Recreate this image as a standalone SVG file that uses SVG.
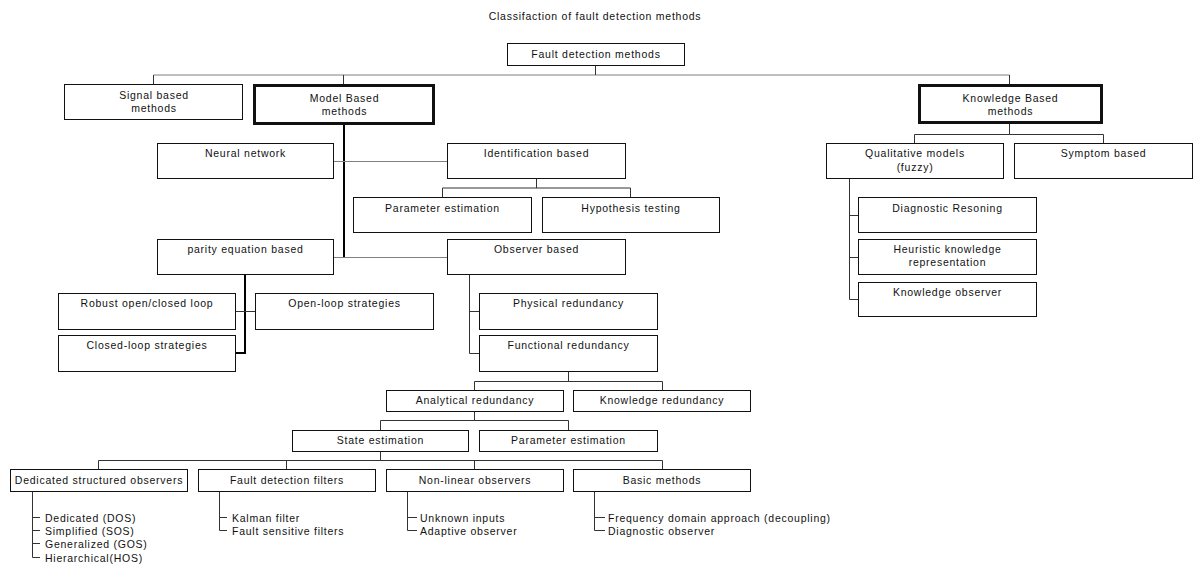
<svg xmlns="http://www.w3.org/2000/svg" width="1194" height="565" viewBox="0 0 1194 565">
<style>
.box{fill:#fff;stroke:#111;stroke-width:1}
.thick{stroke-width:3}
text{font-family:"Liberation Sans",Arial,sans-serif;font-size:10.5px;letter-spacing:0.75px;fill:#111}
.c{text-anchor:middle}
.ln{fill:none;stroke:#333;stroke-width:1}
.gr{fill:none;stroke:#808080;stroke-width:1.2}
.tk{fill:none;stroke:#000;stroke-width:2}
</style>
<rect width="1194" height="565" fill="#fff"/>
<text class="c" x="595" y="20">Classifaction of fault detection methods</text>
<g id="connectors">
<path class="gr" d="M153.5 75H1009.5"/>
<path class="ln" d="M595.5 65V75M153.5 75V84M343.5 75V84M1009.5 75V84"/>
<path class="tk" d="M344 124V258"/>
<path class="gr" d="M333 161.5H447M333 257.5H447"/>
<path class="ln" d="M536.5 178V188M442.5 188H630.5M442.5 188V197M630.5 188V197"/>
<path class="tk" d="M245 274V353H235"/>
<path class="ln" d="M235 311.5H255"/>
<path class="ln" d="M469.5 274V353.5H479M469.5 311.5H479"/>
<path class="ln" d="M568.5 371V381.5M474.5 381.5H662.5M474.5 381.5V390M662.5 381.5V390"/>
<path class="ln" d="M474.5 411V420.5M380.5 420.5H568.5M380.5 420.5V430M568.5 420.5V430"/>
<path class="ln" d="M380.5 451V460.5M98.5 460.5H662.5M98.5 460.5V469M286.5 460.5V469M474.5 460.5V469M662.5 460.5V469"/>
<path class="ln" d="M32.5 491V557.5H40M32.5 517.5H40M32.5 530.5H40M32.5 543.5H40"/>
<path class="ln" d="M219.5 491V530.5H227M219.5 517.5H227"/>
<path class="ln" d="M407.5 491V530.5H417M407.5 517.5H417"/>
<path class="ln" d="M594.5 491V530.5H605M594.5 517.5H605"/>
<path class="ln" d="M1009.5 123V134.5M914.5 134.5H1103.5M914.5 134.5V143M1103.5 134.5V143"/>
<path class="ln" d="M849.5 178V299.5H858M849.5 215.5H858M849.5 257.5H858"/>
</g>
<g id="n_root"><rect class="box" x="507.5" y="43.5" width="177" height="22"/><text class="c" x="596" y="58">Fault detection methods</text></g>
<g id="n_signal"><rect class="box" x="64.5" y="84.5" width="178" height="35"/><text class="c" x="154" y="99">Signal based</text><text class="c" x="154" y="112">methods</text></g>
<g id="n_model"><rect class="box thick" x="254.5" y="85.5" width="179" height="38"/><text class="c" x="344.5" y="101.5">Model Based</text><text class="c" x="344.5" y="115">methods</text></g>
<g id="n_knowledge"><rect class="box thick" x="919.5" y="85.5" width="182" height="37"/><text class="c" x="1010.5" y="101.5">Knowledge Based</text><text class="c" x="1010.5" y="115">methods</text></g>
<g id="n_neural"><rect class="box" x="157.5" y="143.5" width="176" height="35"/><text class="c" x="245.5" y="157">Neural network</text></g>
<g id="n_ident"><rect class="box" x="447.5" y="143.5" width="178" height="35"/><text class="c" x="536.5" y="157">Identification based</text></g>
<g id="n_param1"><rect class="box" x="353.5" y="197.5" width="178" height="35"/><text class="c" x="442.5" y="212">Parameter estimation</text></g>
<g id="n_hypo"><rect class="box" x="542.5" y="197.5" width="177" height="35"/><text class="c" x="631" y="212">Hypothesis testing</text></g>
<g id="n_parity"><rect class="box" x="157.5" y="239.5" width="176" height="35"/><text class="c" x="245.5" y="253">parity equation based</text></g>
<g id="n_observer"><rect class="box" x="447.5" y="239.5" width="178" height="35"/><text class="c" x="536.5" y="253">Observer based</text></g>
<g id="n_robust"><rect class="box" x="58.5" y="293.5" width="177" height="36"/><text class="c" x="147" y="307">Robust open/closed loop</text></g>
<g id="n_openloop"><rect class="box" x="255.5" y="293.5" width="178" height="36"/><text class="c" x="344.5" y="307">Open-loop strategies</text></g>
<g id="n_closed"><rect class="box" x="58.5" y="335.5" width="177" height="36"/><text class="c" x="147" y="349">Closed-loop strategies</text></g>
<g id="n_physical"><rect class="box" x="479.5" y="293.5" width="178" height="36"/><text class="c" x="568.5" y="307">Physical redundancy</text></g>
<g id="n_functional"><rect class="box" x="479.5" y="335.5" width="178" height="36"/><text class="c" x="568.5" y="349">Functional redundancy</text></g>
<g id="n_analytical"><rect class="box" x="386.5" y="390.5" width="177" height="21"/><text class="c" x="475" y="404">Analytical redundancy</text></g>
<g id="n_knowred"><rect class="box" x="573.5" y="390.5" width="177" height="21"/><text class="c" x="662" y="404">Knowledge redundancy</text></g>
<g id="n_state"><rect class="box" x="292.5" y="430.5" width="176" height="21"/><text class="c" x="380.5" y="444">State estimation</text></g>
<g id="n_param2"><rect class="box" x="479.5" y="430.5" width="178" height="21"/><text class="c" x="568.5" y="444">Parameter estimation</text></g>
<g id="n_dso"><rect class="box" x="10.5" y="469.5" width="177" height="22"/><text class="c" x="99" y="484">Dedicated structured observers</text></g>
<g id="n_fdf"><rect class="box" x="198.5" y="469.5" width="177" height="22"/><text class="c" x="287" y="484">Fault detection filters</text></g>
<g id="n_nlo"><rect class="box" x="386.5" y="469.5" width="177" height="22"/><text class="c" x="475" y="484">Non-linear observers</text></g>
<g id="n_basic"><rect class="box" x="573.5" y="469.5" width="177" height="22"/><text class="c" x="662" y="484">Basic methods</text></g>
<g id="l_dso"><text x="45" y="522">Dedicated (DOS)</text><text x="45" y="535">Simplified (SOS)</text><text x="45" y="548">Generalized (GOS)</text><text x="45" y="562">Hierarchical(HOS)</text></g>
<g id="l_fdf"><text x="232" y="522">Kalman filter</text><text x="232" y="535">Fault sensitive filters</text></g>
<g id="l_nlo"><text x="420" y="522">Unknown inputs</text><text x="420" y="535">Adaptive observer</text></g>
<g id="l_basic"><text x="608" y="522">Frequency domain approach (decoupling)</text><text x="608" y="535">Diagnostic observer</text></g>
<g id="n_qual"><rect class="box" x="826.5" y="143.5" width="177" height="35"/><text class="c" x="915" y="157">Qualitative models</text><text class="c" x="915" y="171">(fuzzy)</text></g>
<g id="n_symptom"><rect class="box" x="1014.5" y="143.5" width="178" height="35"/><text class="c" x="1103.5" y="157">Symptom based</text></g>
<g id="n_diag"><rect class="box" x="858.5" y="197.5" width="178" height="35"/><text class="c" x="947.5" y="212">Diagnostic Resoning</text></g>
<g id="n_heur"><rect class="box" x="858.5" y="239.5" width="178" height="35"/><text class="c" x="947.5" y="253">Heuristic knowledge</text><text class="c" x="947.5" y="266">representation</text></g>
<g id="n_kobs"><rect class="box" x="858.5" y="282.5" width="178" height="34"/><text class="c" x="947.5" y="296">Knowledge observer</text></g>
</svg>
